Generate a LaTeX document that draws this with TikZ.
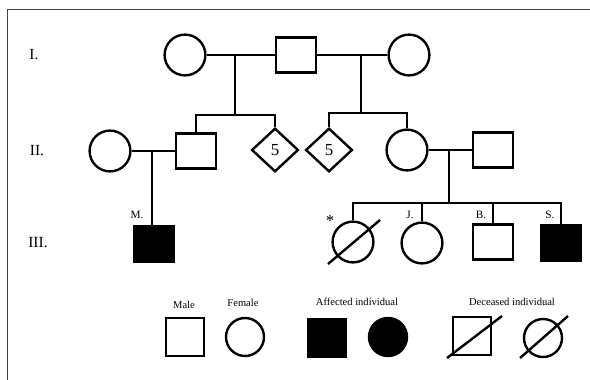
\documentclass[tikz,border=0pt]{standalone}
\usepackage{fontspec}
\setmainfont{Liberation Serif}
\usetikzlibrary{shapes.geometric}

\begin{document}
\begin{tikzpicture}[x=0.025cm,y=-0.025cm,line width=1.7pt]
  \tikzstyle{male}=[rectangle,draw,minimum width=1.0cm,minimum height=0.87cm,inner sep=0pt]
  \tikzstyle{female}=[circle,draw,minimum size=1.02cm,inner sep=0pt]
  \tikzstyle{sibs}=[diamond,draw,minimum width=1.17cm,minimum height=1.09cm,inner sep=0pt,font=\large]
  \tikzstyle{affected}=[fill=black]
  \tikzstyle{small}=[minimum width=0.92cm,minimum height=0.83cm,minimum size=0.95cm]
  \tikzstyle{line}=[line width=2.1pt]
  \tikzstyle{gen}=[font=\fontsize{11}{13}\selectfont]
  \tikzstyle{tag}=[font=\fontsize{8}{10}\selectfont]
  \tikzstyle{key}=[font=\fontsize{7.5}{9}\selectfont]

  \useasboundingbox (0,0) rectangle (590,380);
  \draw[line width=0.7pt,black!75] (7,380) -- (7,9) -- (590,9);

  \node[gen] (gI) at (34,55) {I.};
  \node[gen] (gII) at (37,151) {II.};
  \node[gen] (gIII) at (38,243) {III.};

  \node[female] (I_1) at (185,55) {};
  \node[male] (I_2) at (296,55) {};
  \node[female] (I_3) at (409,55) {};

  \node[female] (II_1) at (110,151) {};
  \node[male] (II_2) at (196,151) {};
  \node[sibs] (II_3) at (275,150) {5};
  \node[sibs] (II_4) at (329,150) {5};
  \node[female] (II_5) at (407,150) {};
  \node[male] (II_6) at (493,150) {};

  \node[male,affected] (III_1) at (154,244) {};
  \node[female] (III_2) at (353,242) {};
  \node[female] (III_3) at (422,243) {};
  \node[male] (III_4) at (493,242) {};
  \node[male,affected] (III_5) at (561,243) {};

  \node[tag] (M) at (137,215) {M.};
  \node[font=\fontsize{12}{14}\selectfont] (star) at (330,221) {*};
  \node[tag] (J) at (410,215) {J.};
  \node[tag] (B) at (481,215) {B.};
  \node[tag] (S) at (550,215) {S.};

  \coordinate (m_1) at (235,55);
  \coordinate (m_2) at (361,55);
  \coordinate (m_3) at (152,151);
  \coordinate (m_4) at (449,151);
  \coordinate (s_1) at (235,115);
  \coordinate (s_2) at (361,113);
  \coordinate (s_3) at (449,203);

  \draw[line] (I_1) -- (I_2) -- (I_3);
  \draw[line] (m_1) -- (s_1);
  \draw[line] (m_2) -- (s_2);
  \draw[line] (II_2.north) |- (s_1) -| (II_3.north);
  \draw[line] (II_4.north) |- (s_2) -| (II_5.north);

  \draw[line] (II_1) -- (II_2);
  \draw[line] (II_5) -- (II_6);
  \draw[line] (m_3) -- (m_3 |- III_1.north);
  \draw[line] (m_4) -- (s_3);
  \draw[line] (III_2.north) |- (s_3) -| (III_5.north);
  \draw[line] (III_3.north) -- (III_3.north |- s_3);
  \draw[line] (III_4.north) -- (III_4.north |- s_3);

  \draw ([shift={(-25,22)}]III_2.center) -- ([shift={(27,-22)}]III_2.center);

  % key
  \node[key] (k_male) at (184,305) {Male};
  \node[key] (k_female) at (243,303) {Female};
  \node[key] (k_aff) at (357,302) {Affected individual};
  \node[key] (k_dec) at (512,302) {Deceased individual};

  \node[male,small] (K_1) at (185,337) {};
  \node[female,small] (K_2) at (245,337) {};
  \node[male,small,affected] (K_3) at (327,338) {};
  \node[female,small,affected] (K_4) at (388,337) {};
  \node[male,small] (K_5) at (472,336) {};
  \node[female,small] (K_6) at (543,338) {};

  \draw ([shift={(-25,22)}]K_5.center) -- ([shift={(30,-20)}]K_5.center);
  \draw ([shift={(-23,20)}]K_6.center) -- ([shift={(25,-22)}]K_6.center);
\end{tikzpicture}
\end{document}
